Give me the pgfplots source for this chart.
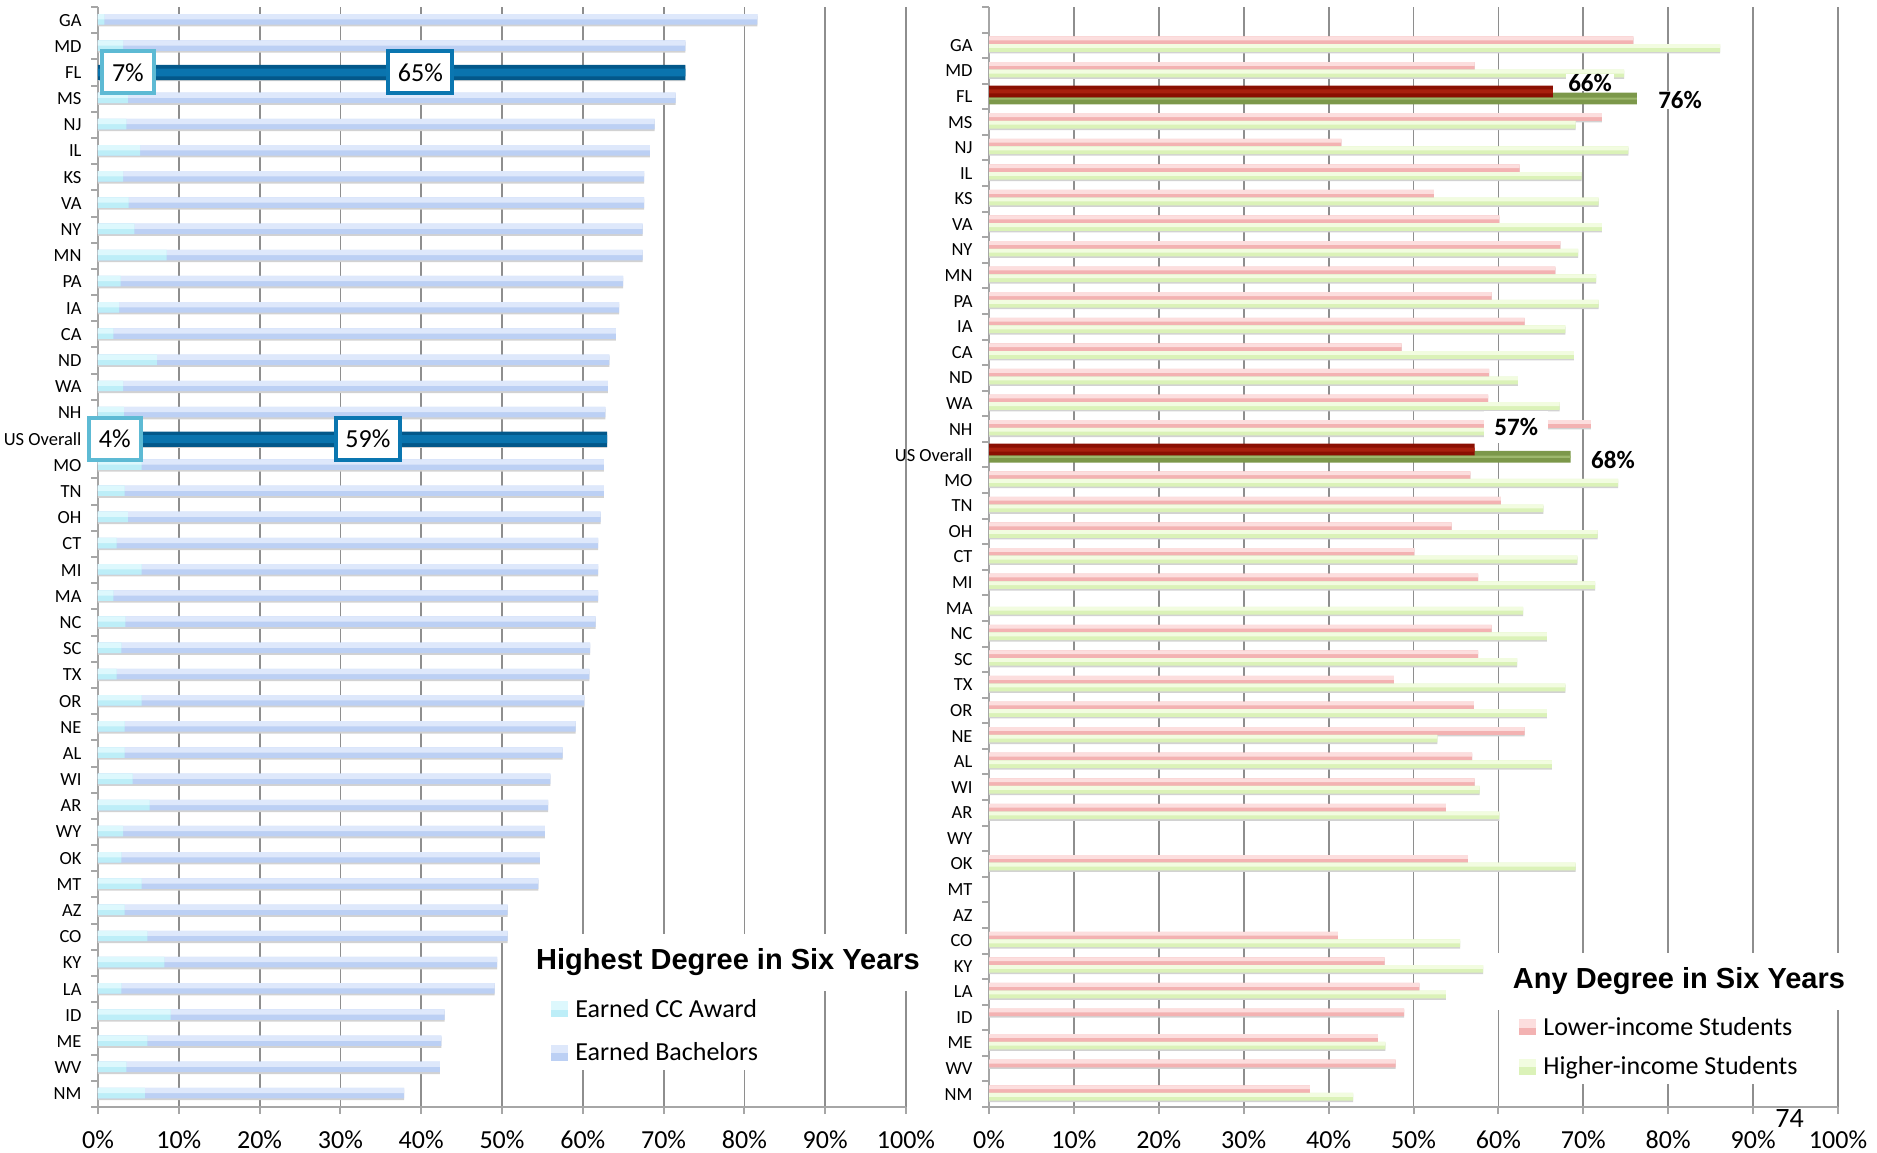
\documentclass[border=0pt]{standalone}
\usepackage{pgfplots}
\pgfplotsset{compat=1.18}
\usepackage{pgfplotstable}
\usepackage{fontspec}
\setmainfont{Carlito}
\newfontfamily\titlefont{Liberation Sans}
\definecolor{gridgray}{HTML}{8E8E8E}
\definecolor{axisgray}{HTML}{A6A6A6}
\definecolor{ccTop}{HTML}{DDF8FD}
\definecolor{ccBot}{HTML}{BDEEF8}
\definecolor{baTop}{HTML}{DEE8FB}
\definecolor{baBot}{HTML}{BCD0F4}
\definecolor{loTop}{HTML}{FCDEDE}
\definecolor{loBot}{HTML}{F3B2B2}
\definecolor{hiTop}{HTML}{F2FCE0}
\definecolor{hiBot}{HTML}{DBF2B8}
\definecolor{shad}{HTML}{D2D2D2}
\definecolor{flDark}{HTML}{03588A}
\definecolor{flMid}{HTML}{0A74AE}
\definecolor{boxLight}{HTML}{5DBAD4}
\definecolor{boxDark}{HTML}{0A76B0}
\definecolor{redDark}{HTML}{8A0F02}
\definecolor{redMid}{HTML}{A8200E}
\definecolor{olDark}{HTML}{7C984A}
\definecolor{olMid}{HTML}{9DB86C}

\pgfplotstableread{
y cc ba
0 0.8 80.8
1 3.1 69.6
3 3.7 67.8
4 3.5 65.4
5 5.2 63.1
6 3.1 64.5
7 3.8 63.8
8 4.5 62.9
9 8.5 58.9
10 2.8 62.2
11 2.6 61.9
12 1.9 62.2
13 7.3 56.0
14 3.1 60.0
15 3.2 59.6
17 5.4 57.2
18 3.3 59.3
19 3.7 58.5
20 2.3 59.6
21 5.4 56.5
22 1.9 60.0
23 3.4 58.2
24 2.9 58.0
25 2.3 58.5
26 5.4 54.8
27 3.3 55.8
28 3.3 54.2
29 4.3 51.7
30 6.4 49.3
31 3.1 52.2
32 2.9 51.8
33 5.4 49.1
34 3.3 47.4
35 6.1 44.6
36 8.2 41.2
37 2.9 46.2
38 9.0 33.9
39 6.1 36.4
40 3.5 38.8
41 5.8 32.1
}\leftdata

\pgfplotstableread{
y cc ba
2 7.2 65.5
16 4.0 59.0
}\lefthl

\pgfplotstableread{
y v
1 75.9
2 57.2
4 72.2
5 41.5
6 62.5
7 52.4
8 60.1
9 67.3
10 66.7
11 59.2
12 63.1
13 48.6
14 58.9
15 58.8
16 70.9
18 56.7
19 60.3
20 54.5
21 50.1
22 57.6
24 59.2
25 57.6
26 47.7
27 57.1
28 63.1
29 56.9
30 57.2
31 53.8
33 56.4
36 41.1
37 46.6
38 50.7
39 48.9
40 45.8
41 47.9
42 37.8
}\lowdata

\pgfplotstableread{
y v
1 86.1
2 74.8
4 69.1
5 75.3
6 69.8
7 71.8
8 72.2
9 69.4
10 71.5
11 71.8
12 67.9
13 68.9
14 62.3
15 67.2
16 60.0
18 74.1
19 65.3
20 71.7
21 69.3
22 71.4
23 62.9
24 65.7
25 62.2
26 67.9
27 65.7
28 52.8
29 66.3
30 57.8
31 60.1
33 69.1
36 55.5
37 58.2
38 53.8
40 46.7
42 42.9
}\highdata

\pgfplotstableread{
y lo hi
3 66.4 76.3
17 57.2 68.5
}\rhl

\pgfplotsset{
  panel/.style={
    scale only axis, height=1100pt,
    xmin=0, xmax=100, y dir=reverse,
    axis x line*=bottom, axis y line*=left,
    axis line style={draw=axisgray, line width=2pt},
    xmajorgrids, major grid style={draw=gridgray, line width=1.8pt},
    xtick={0,10,...,100},
    xticklabels={0\%,10\%,20\%,30\%,40\%,50\%,60\%,70\%,80\%,90\%,100\%},
    xticklabel style={font=\fontsize{26}{30}\selectfont, yshift=-13pt},
    y tick label as interval,
    yticklabel style={font=\fontsize{18.5}{21}\selectfont, xshift=-6pt},
    major tick length=7pt, tick align=outside,
    tick style={draw=axisgray, line width=2pt},
    clip=false,
    legend cell align=left,
  },
  hb/.style={xbar, draw=none, forget plot},
}

\begin{document}
\begin{tikzpicture}
\path[use as bounding box] (0pt,0pt) rectangle (1877pt,1152pt);

% ---------------- left panel ----------------
\begin{axis}[panel, at={(98pt,45pt)}, anchor=south west, width=808pt,
  ymin=-0.5, ymax=41.5, ytick={-0.5,0.5,...,41.5},
  yticklabels={GA,MD,FL,MS,NJ,IL,KS,VA,NY,MN,PA,IA,CA,ND,WA,NH,US Overall,MO,TN,OH,CT,MI,MA,NC,SC,TX,OR,NE,AL,WI,AR,WY,OK,MT,AZ,CO,KY,LA,ID,ME,WV,NM},
  legend style={at={(axis cs:54.33,37.07)}, anchor=north west, draw=none, fill=white,
    font=\fontsize{26}{30}\selectfont, row sep=20pt, inner xsep=14pt, inner ysep=6pt},
]
\addplot[hb, bar width=0.40, bar shift=0.04, fill=shad] table[y=y, x expr=\thisrow{cc}+\thisrow{ba}] {\leftdata};
\addplot[hb, bar width=0.40, bar shift=-0.03, fill=baBot] table[y=y, x expr=\thisrow{cc}+\thisrow{ba}] {\leftdata};
\addplot[hb, bar width=0.20, bar shift=-0.13, fill=baTop] table[y=y, x expr=\thisrow{cc}+\thisrow{ba}] {\leftdata};
\addplot[hb, bar width=0.40, bar shift=-0.03, fill=ccBot] table[y=y, x=cc] {\leftdata};
\addplot[hb, bar width=0.20, bar shift=-0.13, fill=ccTop] table[y=y, x=cc] {\leftdata};
\addplot[hb, bar width=0.58, bar shift=0.04, fill=shad] table[y=y, x expr=\thisrow{cc}+\thisrow{ba}] {\lefthl};
\addplot[hb, bar width=0.58, bar shift=0, fill=flDark] table[y=y, x expr=\thisrow{cc}+\thisrow{ba}] {\lefthl};
\addplot[hb, bar width=0.30, bar shift=0, fill=flMid] table[y=y, x expr=\thisrow{cc}+\thisrow{ba}] {\lefthl};

\addlegendimage{legend image code/.code={\path[draw=none, fill=none] (0pt,0pt) rectangle (22pt,0.1pt); \fill[ccBot] (0pt,-7.5pt) rectangle (16pt,7.5pt); \fill[ccTop] (0pt,0pt) rectangle (16pt,7.5pt);}}
\addlegendentry{Earned CC Award}
\addlegendimage{legend image code/.code={\path[draw=none, fill=none] (0pt,0pt) rectangle (22pt,0.1pt); \fill[baBot] (0pt,-7.5pt) rectangle (16pt,7.5pt); \fill[baTop] (0pt,0pt) rectangle (16pt,7.5pt);}}
\addlegendentry{Earned Bachelors}

\node[font=\titlefont\bfseries\fontsize{29}{32}\selectfont, fill=white, inner sep=0pt, minimum width=396pt, minimum height=57pt] at (axis cs:77.97,35.97) {Highest Degree in Six Years};

\node[draw=boxLight, line width=4pt, fill=white, minimum width=52pt, minimum height=42pt, inner sep=0pt, font=\fontsize{26}{30}\selectfont] at (axis cs:3.7,2) {7\%};
\node[draw=boxDark, line width=4pt, fill=white, minimum width=64pt, minimum height=42pt, inner sep=0pt, font=\fontsize{26}{30}\selectfont] at (axis cs:39.9,2) {65\%};
\node[draw=boxLight, line width=4pt, fill=white, minimum width=52pt, minimum height=42pt, inner sep=0pt, font=\fontsize{26}{30}\selectfont] at (axis cs:2.07,16) {4\%};
\node[draw=boxDark, line width=4pt, fill=white, minimum width=64pt, minimum height=42pt, inner sep=0pt, font=\fontsize{26}{30}\selectfont] at (axis cs:33.4,16) {59\%};
\end{axis}

% ---------------- right panel ----------------
\begin{axis}[panel, at={(989pt,45pt)}, anchor=south west, width=849pt,
  ymin=-0.5, ymax=42.5, ytick={-0.5,0.5,...,42.5},
  yticklabels={{},GA,MD,FL,MS,NJ,IL,KS,VA,NY,MN,PA,IA,CA,ND,WA,NH,US Overall,MO,TN,OH,CT,MI,MA,NC,SC,TX,OR,NE,AL,WI,AR,WY,OK,MT,AZ,CO,KY,LA,ID,ME,WV,NM},
  legend style={at={(axis cs:60.78,38.67)}, anchor=north west, draw=none, fill=white,
    font=\fontsize{26}{30}\selectfont, row sep=16pt, inner xsep=14pt, inner ysep=6pt},
]
\addplot[hb, bar width=0.30, bar shift=-0.14, fill=shad] table[y=y, x=v] {\lowdata};
\addplot[hb, bar width=0.30, bar shift=0.16, fill=shad] table[y=y, x=v] {\highdata};
\addplot[hb, bar width=0.30, bar shift=-0.20, fill=loBot] table[y=y, x=v] {\lowdata};
\addplot[hb, bar width=0.15, bar shift=-0.275, fill=loTop] table[y=y, x=v] {\lowdata};
\addplot[hb, bar width=0.30, bar shift=0.10, fill=hiBot] table[y=y, x=v] {\highdata};
\addplot[hb, bar width=0.15, bar shift=0.025, fill=hiTop] table[y=y, x=v] {\highdata};
\addplot[hb, bar width=0.46, bar shift=0.08, fill=olDark] table[y=y, x=hi] {\rhl};
\addplot[hb, bar width=0.08, bar shift=0.08, fill=olMid] table[y=y, x=hi] {\rhl};
\addplot[hb, bar width=0.46, bar shift=-0.20, fill=redDark] table[y=y, x=lo] {\rhl};
\addplot[hb, bar width=0.16, bar shift=-0.20, fill=redMid] table[y=y, x=lo] {\rhl};

\addlegendimage{legend image code/.code={\path[draw=none, fill=none] (0pt,0pt) rectangle (22pt,0.1pt); \fill[loBot] (0pt,-7.5pt) rectangle (16pt,7.5pt); \fill[loTop] (0pt,0pt) rectangle (16pt,7.5pt);}}
\addlegendentry{Lower-income Students}
\addlegendimage{legend image code/.code={\path[draw=none, fill=none] (0pt,0pt) rectangle (22pt,0.1pt); \fill[hiBot] (0pt,-7.5pt) rectangle (16pt,7.5pt); \fill[hiTop] (0pt,0pt) rectangle (16pt,7.5pt);}}
\addlegendentry{Higher-income Students}

\node[font=\titlefont\bfseries\fontsize{29}{32}\selectfont, fill=white, inner sep=0pt, minimum width=388pt, minimum height=57pt] at (axis cs:81.27,37.58) {Any Degree in Six Years};

\node[font=\bfseries\fontsize{25}{28}\selectfont, fill=white, inner xsep=2pt, inner ysep=0pt] at (axis cs:70.8,2.46) {66\%};
\node[font=\bfseries\fontsize{25}{28}\selectfont, fill=white, inner xsep=2pt, inner ysep=0pt] at (axis cs:81.4,3.13) {76\%};
\node[font=\bfseries\fontsize{25}{28}\selectfont, fill=white, minimum width=64pt, minimum height=32pt, inner sep=0pt] at (axis cs:62.1,15.9) {57\%};
\node[font=\bfseries\fontsize{25}{28}\selectfont, fill=white, inner xsep=2pt, inner ysep=0pt] at (axis cs:73.5,17.2) {68\%};

\node[font=\fontsize{28}{32}\selectfont] at (axis cs:94.3,42.95) {74};
\end{axis}
\end{tikzpicture}
\end{document}
